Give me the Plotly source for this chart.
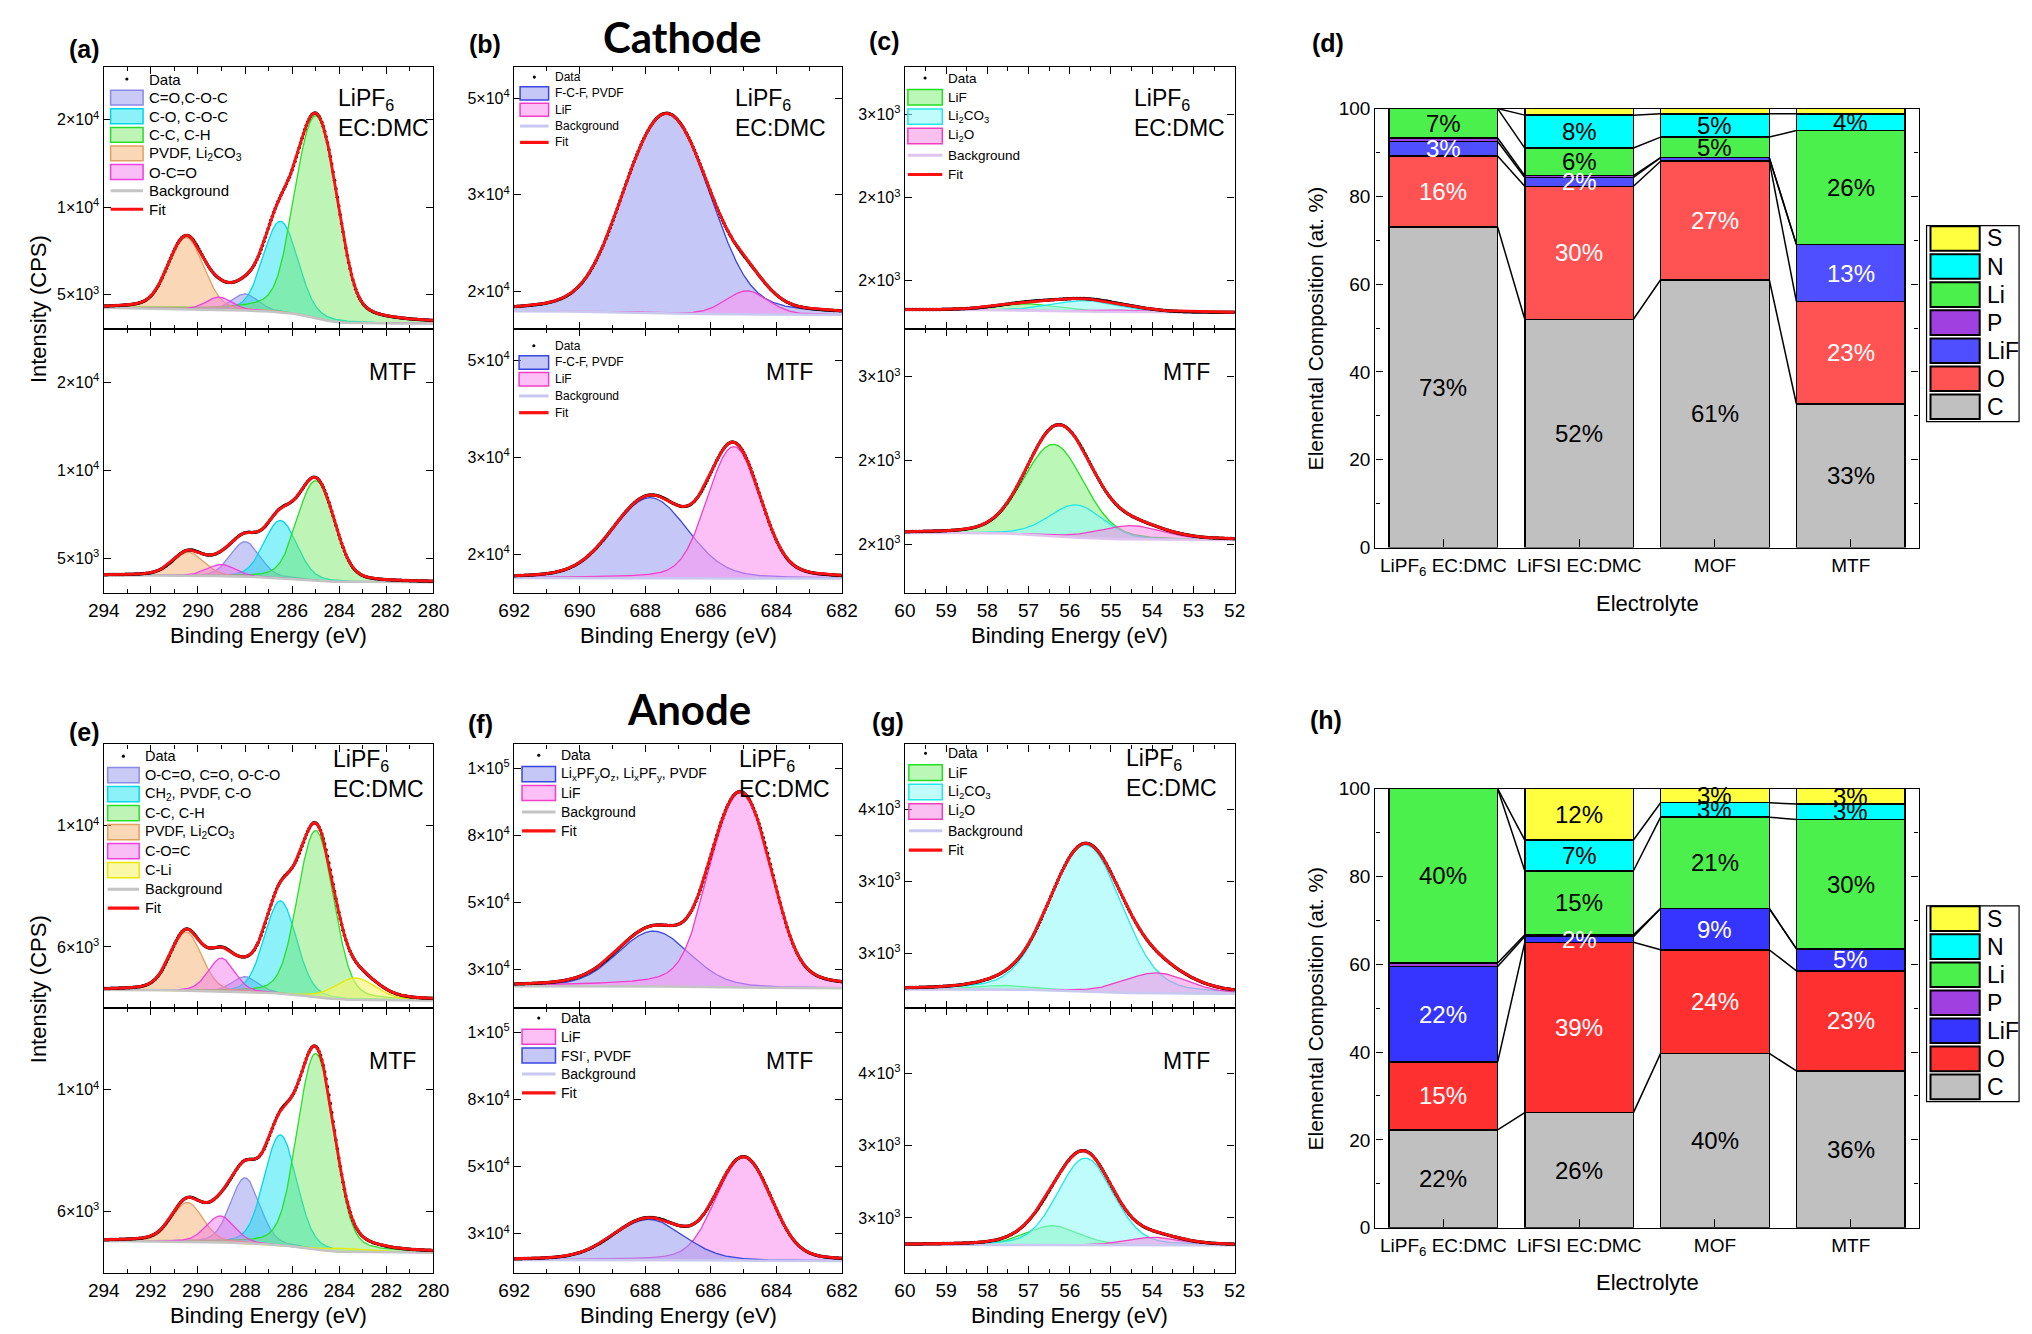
import numpy as np
import plotly.graph_objects as go

W, H = 2032, 1334
FONT = "Liberation Sans, Arial, sans-serif"

# ======================= XPS peak-fit parameters =======================
# centres in eV, peak heights above background in CPS, FWHM in eV,
# background end levels [high-BE end, low-BE end] in CPS

# (a) C 1s, cathode
A1_NAMES = ["C=O,C-O-C", "C-O, C-O-C", "C-C, C-H", "PVDF, Li<sub>2</sub>CO<sub>3</sub>", "O-C=O"]
A1_CENTER = [288.0, 286.5, 285.0, 290.5, 289.1]
A1_HEIGHT = [620, 4600, 16500, 3400, 480]
A1_FWHM = [1.3, 1.5, 1.6, 1.6, 1.3]
A1_BG = [4500, 3980]
A2_CENTER = [288.0, 286.5, 285.0, 290.4, 289.0]
A2_HEIGHT = [1370, 2450, 5000, 880, 420]
A2_FWHM = [1.4, 1.5, 1.6, 1.5, 1.4]
A2_BG = [4370, 4140]
A_YTICKS = [5000, 10000, 20000]
A_YTEXT = ["5×10<sup>3</sup>", "1×10<sup>4</sup>", "2×10<sup>4</sup>"]

# (b) F 1s, cathode
B1_NAMES = ["F-C-F, PVDF", "LiF"]
B1_CENTER = [687.35, 684.9]
B1_HEIGHT = [28700, 2150]
B1_FWHM = [2.6, 1.5]
B1_BG = [18100, 17800]
B2_NAMES = ["F-C-F, PVDF", "LiF"]
B2_CENTER = [687.85, 685.3]
B2_HEIGHT = [8300, 15500]
B2_FWHM = [2.5, 1.7]
B2_BG = [17850, 17800]
B_YTICKS = [10 ** 4.3, 10 ** 4.5, 10 ** 4.7]
B_YTEXT = ["2×10<sup>4</sup>", "3×10<sup>4</sup>", "5×10<sup>4</sup>"]

# (c) Li 1s, cathode
C_NAMES = ["LiF", "Li<sub>2</sub>CO<sub>3</sub>", "Li<sub>2</sub>O"]
C1_CENTER = [57.0, 55.6, 54.5]
C1_HEIGHT = [30, 50, 10]
C1_FWHM = [1.8, 1.8, 1.5]
C1_BG = [1641, 1629]
C2_CENTER = [56.39, 55.84, 54.5]
C2_HEIGHT = [520, 170, 70]
C2_FWHM = [1.65, 1.5, 1.8]
C2_BG = [1834, 1799]
C_YTICKS = [10 ** 3.25, 10 ** 3.35, 10 ** 3.45]
C_YTEXT = ["2×10<sup>3</sup>", "2×10<sup>3</sup>", "3×10<sup>3</sup>"]

# (e) C 1s, anode
E1_NAMES = ["O-C=O, C=O, O-C-O", "CH<sub>2</sub>, PVDF, C-O", "C-C, C-H",
            "PVDF, Li<sub>2</sub>CO<sub>3</sub>", "C-O=C", "C-Li"]
E1_CENTER = [288.0, 286.5, 285.0, 290.5, 289.0, 283.3]
E1_HEIGHT = [320, 2230, 4600, 1330, 720, 450]
E1_FWHM = [1.3, 1.5, 1.6, 1.5, 1.3, 2.0]
E1_BG = [5360, 5150]
E2_CENTER = [288.0, 286.5, 285.0, 290.45, 289.05, 283.5]
E2_HEIGHT = [1570, 2880, 6000, 900, 590, 80]
E2_FWHM = [1.4, 1.5, 1.6, 1.5, 1.4, 2.5]
E2_BG = [5640, 5400]
E_YTICKS = [10 ** 3.8, 10 ** 4.0]
E_YTEXT = ["6×10<sup>3</sup>", "1×10<sup>4</sup>"]

# (f) F 1s, anode
F1_NAMES = ["Li<sub>x</sub>PF<sub>y</sub>O<sub>z</sub>, Li<sub>x</sub>PF<sub>y</sub>, PVDF", "LiF"]
F1_CENTER = [687.75, 685.1]
F1_HEIGHT = [13000, 78700]
F1_FWHM = [2.4, 1.75]
F1_BG = [28100, 27700]
F2_NAMES = ["LiF", "FSI<sup>-</sup>, PVDF"]
F2_CENTER = [685.0, 687.9]
F2_HEIGHT = [27000, 8500]
F2_FWHM = [1.75, 2.4]
F2_BG = [26400, 26200]
F_YTICKS = [10 ** 4.5, 10 ** 4.7, 10 ** 4.9, 10 ** 5.1]
F_YTEXT = ["3×10<sup>4</sup>", "5×10<sup>4</sup>", "8×10<sup>4</sup>", "1×10<sup>5</sup>"]

# (g) Li 1s, anode
G_NAMES = ["LiF", "Li<sub>2</sub>CO<sub>3</sub>", "Li<sub>2</sub>O"]
G1_CENTER = [57.6, 55.62, 53.9]
G1_HEIGHT = [30, 1330, 150]
G1_FWHM = [1.5, 1.9, 1.8]
G1_BG = [2238, 2208]
G2_CENTER = [56.42, 55.62, 53.95]
G2_HEIGHT = [145, 735, 60]
G2_FWHM = [1.5, 1.5, 1.5]
G2_BG = [2306, 2302]
G_YTICKS = [10 ** 3.4, 10 ** 3.5, 10 ** 3.6]
G_YTEXT = ["3×10<sup>3</sup>", "3×10<sup>3</sup>", "4×10<sup>3</sup>"]

# ======================= Elemental composition (at. %) =======================
CATS = ["LiPF<sub>6</sub> EC:DMC", "LiFSI EC:DMC", "MOF", "MTF"]
ELEMENTS = ["C", "O", "LiF", "P", "Li", "N", "S"]
D_C = [73.0, 52.0, 61.0, 32.7]
D_O = [16.2, 30.3, 27.0, 23.3]
D_LIF = [3.3, 2.0, 0.8, 13.0]
D_P = [0.8, 0.4, 0.0, 0.0]
D_LI = [6.7, 6.3, 4.7, 26.0]
D_N = [0.0, 7.5, 5.3, 3.8]
D_S = [0.0, 1.5, 1.2, 1.2]
D_LABELS = [["73%", "52%", "61%", "33%"], ["16%", "30%", "27%", "23%"], ["3%", "2%", "", "13%"],
            ["", "", "", ""], ["7%", "6%", "5%", "26%"], ["", "8%", "5%", "4%"], ["", "", "", ""]]
H_C = [22.3, 26.2, 39.7, 35.7]
H_O = [15.4, 38.8, 23.6, 22.8]
H_LIF = [21.8, 1.3, 9.4, 5.0]
H_P = [0.8, 0.4, 0.0, 0.0]
H_LI = [39.7, 14.6, 20.8, 29.5]
H_N = [0.0, 7.0, 3.3, 3.5]
H_S = [0.0, 11.7, 3.2, 3.5]
H_LABELS = [["22%", "26%", "40%", "36%"], ["15%", "39%", "24%", "23%"], ["22%", "2%", "9%", "5%"],
            ["", "", "", ""], ["40%", "15%", "21%", "30%"], ["", "7%", "3%", "3%"], ["", "12%", "3%", "3%"]]

# ======================= styles =======================
LAV = ("rgba(150,150,240,0.5)", "#8a8ae8")
CYAN = ("rgba(0,225,240,0.45)", "#00d8e8")
GREEN = ("rgba(110,230,90,0.45)", "#28e028")
ORANGE = ("rgba(245,175,110,0.5)", "#e0a060")
PINK = ("rgba(245,110,235,0.45)", "#f040e0")
YELLOW = ("rgba(245,245,110,0.6)", "#e8e800")
FCF = ("rgba(150,155,240,0.55)", "#3a46e0")
LIFP = ("rgba(250,150,240,0.6)", "#f040c8")
LGREEN = ("rgba(120,240,110,0.5)", "#20e020")
LCYAN = ("rgba(150,250,250,0.6)", "#20e8e8")
LPINK = ("rgba(245,140,230,0.55)", "#f040c0")

BAR_COLORS_D = {"C": "#c0c0c0", "O": "#ff5252", "LiF": "#4f4fff", "P": "#a040e0",
                "Li": "#4cf04c", "N": "#00ffff", "S": "#ffff40"}
BAR_COLORS_H = {"C": "#c0c0c0", "O": "#ff3030", "LiF": "#3535ff", "P": "#a040e0",
                "Li": "#4cf04c", "N": "#00ffff", "S": "#ffff40"}
TEXT_COLORS = {"C": "black", "O": "white", "LiF": "white", "P": "black", "Li": "black", "N": "black", "S": "black"}

fig = go.Figure()
annotations = []
shapes = []
layout = {}


def sfx(n):
    return "" if n == 1 else str(n)


def px(xp):
    return xp / W


def py(yp):
    return 1 - yp / H


def text(xp, yp, t, size, xanchor="center", yanchor="middle", angle=0, color="black", family=FONT, align="center"):
    annotations.append(dict(x=px(xp), y=py(yp), xref="paper", yref="paper", text=t, showarrow=False,
                            xanchor=xanchor, yanchor=yanchor, textangle=angle, align=align,
                            font=dict(size=size, family=family, color=color)))


def gl(x, c, h, w, m=0.2):
    t = (x - c) / w
    return h * ((1 - m) * np.exp(-4 * np.log(2) * t ** 2) + m / (1 + 4 * t ** 2))


def shirley(x, total, hi, lo):
    cum = np.concatenate([[0.0], np.cumsum(0.5 * (total[1:] + total[:-1]) * np.diff(x))])
    return lo + (hi - lo) * cum / cum[-1]


AX = dict(showline=True, linecolor="black", linewidth=1.4, mirror="allticks", ticks="inside",
          ticklen=7, tickwidth=1.4, tickcolor="black", showgrid=False, zeroline=False)


def manual_legend(spec, names, styles, bg_color):
    y0, dy, sx0, sx1, tx, fs = spec
    entries = [("data", "Data", None)] + [("fill", nm, st) for nm, st in zip(names, styles)] + \
              [("line", "Background", bg_color), ("line", "Fit", "#ff1010")]
    hh = 0.4 * dy
    for k, (kind, nm, st) in enumerate(entries):
        yc = y0 + k * dy
        if kind == "data":
            xm = 0.5 * (sx0 + sx1)
            shapes.append(dict(type="circle", xref="paper", yref="paper", x0=px(xm - 1.6), x1=px(xm + 1.6),
                               y0=py(yc + 1.6), y1=py(yc - 1.6), fillcolor="black", line=dict(width=0),
                               layer="above"))
        elif kind == "fill":
            shapes.append(dict(type="rect", xref="paper", yref="paper", x0=px(sx0), x1=px(sx1),
                               y0=py(yc + hh), y1=py(yc - hh), fillcolor=st[0],
                               line=dict(color=st[1], width=1.5), layer="above"))
        else:
            wdt = 3.2 if nm == "Fit" else 3.0
            shapes.append(dict(type="line", xref="paper", yref="paper", x0=px(sx0), x1=px(sx1),
                               y0=py(yc), y1=py(yc), line=dict(color=st, width=wdt), layer="above"))
        text(tx, yc, nm, fs, xanchor="left")


def xps(n, xdom, ydom, xlim, xdtick, xminor, ylim, ytv, ytt, show_xlabels,
        names, centers, heights, fwhms, bg_ends, styles, bg_color, legend=None):
    xa, ya = "x" + sfx(n), "y" + sfx(n)
    lo, hi = xlim
    x = np.linspace(lo, hi, 701)
    comps = [gl(x, c, h, w) for c, h, w in zip(centers, heights, fwhms)]
    total = np.sum(comps, axis=0)
    bg = shirley(x, total, bg_ends[0], bg_ends[1])
    fit = bg + total
    for nm, comp, st in zip(names, comps, styles):
        fig.add_trace(go.Scatter(x=x, y=bg, mode="lines", line=dict(width=0, color=st[1]),
                                 hoverinfo="skip", showlegend=False, xaxis=xa, yaxis=ya))
        fig.add_trace(go.Scatter(x=x, y=bg + comp, mode="lines", fill="tonexty", fillcolor=st[0],
                                 line=dict(color=st[1], width=1.3), name=nm, showlegend=False,
                                 xaxis=xa, yaxis=ya))
    fig.add_trace(go.Scatter(x=x, y=bg, mode="lines", line=dict(color=bg_color, width=2.5),
                             name="Background", showlegend=False, xaxis=xa, yaxis=ya))
    fig.add_trace(go.Scatter(x=x[::3], y=fit[::3], mode="markers", marker=dict(color="black", size=3.5),
                             name="Data", showlegend=False, xaxis=xa, yaxis=ya))
    fig.add_trace(go.Scatter(x=x, y=fit, mode="lines", line=dict(color="#ff1010", width=2.8),
                             name="Fit", showlegend=False, xaxis=xa, yaxis=ya))
    layout["xaxis" + sfx(n)] = dict(AX, domain=xdom, anchor=ya, range=[hi, lo], tickmode="linear",
                                    tick0=lo, dtick=xdtick,
                                    minor=dict(dtick=xminor, tick0=lo, ticks="inside", ticklen=4,
                                               tickwidth=1.2, tickcolor="black", showgrid=False),
                                    showticklabels=show_xlabels,
                                    tickfont=dict(size=19, family=FONT, color="black"))
    layout["yaxis" + sfx(n)] = dict(AX, domain=ydom, anchor=xa, type="log", range=list(ylim),
                                    tickmode="array", tickvals=ytv, ticktext=ytt,
                                    tickfont=dict(size=16, family=FONT, color="black"))
    if legend is not None:
        manual_legend(legend, names, styles, bg_color)


# layout geometry (pixels)
XA = [px(81), px(416)]
XB = [px(498), px(831)]
XC = [px(895), px(1230)]
XD = [px(1373), px(1925)]
YT1 = [py(316), py(50)]
YT2 = [py(584), py(316)]
YB1 = [py(1006), py(738)]
YB2 = [py(1275), py(1006)]
YD = [py(538), py(92)]
YH = [py(1229), py(783)]

# legend geometry: first-row centre y, row step, symbol x0, symbol x1, text x, font size
LEG_A = (62, 18.9, 88, 121, 125, 15)
LEG_B1 = (60, 16.6, 504, 533, 537, 12)
LEG_B2 = (333, 17.0, 503, 533, 537, 12)
LEG_C = (61, 19.6, 898, 933, 937, 13.5)
LEG_E = (750, 19.3, 85, 117, 121, 14.5)
LEG_F1 = (749, 19.2, 506, 540, 544, 14)
LEG_F2 = (1016, 19.0, 506, 540, 544, 14)
LEG_G = (747, 19.7, 899, 933, 937, 14)

ST_A = [LAV, CYAN, GREEN, ORANGE, PINK]
ST_E = [LAV, CYAN, GREEN, ORANGE, PINK, YELLOW]

xps(1, XA, YT1, (280, 294), 2, 1, (3.581, 4.482), A_YTICKS, A_YTEXT, False,
    A1_NAMES, A1_CENTER, A1_HEIGHT, A1_FWHM, A1_BG, ST_A, "#c4c4c4", LEG_A)
xps(2, XA, YT2, (280, 294), 2, 1, (3.581, 4.482), A_YTICKS, A_YTEXT, True,
    A1_NAMES, A2_CENTER, A2_HEIGHT, A2_FWHM, A2_BG, ST_A, "#c4c4c4")
xps(3, XB, YT1, (682, 692), 2, 1, (4.221, 4.765), B_YTICKS, B_YTEXT, False,
    B1_NAMES, B1_CENTER, B1_HEIGHT, B1_FWHM, B1_BG, [FCF, LIFP], "#c8c8f0", LEG_B1)
xps(4, XB, YT2, (682, 692), 2, 1, (4.221, 4.765), B_YTICKS, B_YTEXT, True,
    B2_NAMES, B2_CENTER, B2_HEIGHT, B2_FWHM, B2_BG, [FCF, LIFP], "#c8c8f0", LEG_B2)
xps(5, XC, YT1, (52, 60), 1, 0.5, (3.192, 3.507), C_YTICKS, C_YTEXT, False,
    C_NAMES, C1_CENTER, C1_HEIGHT, C1_FWHM, C1_BG, [LGREEN, LCYAN, LPINK], "#e0c4f0", LEG_C)
xps(6, XC, YT2, (52, 60), 1, 0.5, (3.192, 3.507), C_YTICKS, C_YTEXT, True,
    C_NAMES, C2_CENTER, C2_HEIGHT, C2_FWHM, C2_BG, [LGREEN, LCYAN, LPINK], "#e0c4f0")
xps(7, XA, YB1, (280, 294), 2, 1, (3.699, 4.134), E_YTICKS, E_YTEXT, False,
    E1_NAMES, E1_CENTER, E1_HEIGHT, E1_FWHM, E1_BG, ST_E, "#c4c4c4", LEG_E)
xps(8, XA, YB2, (280, 294), 2, 1, (3.699, 4.134), E_YTICKS, E_YTEXT, True,
    E1_NAMES, E2_CENTER, E2_HEIGHT, E2_FWHM, E2_BG, ST_E, "#c4c4c4")
xps(9, XB, YB1, (682, 692), 2, 1, (4.383, 5.172), F_YTICKS, F_YTEXT, False,
    F1_NAMES, F1_CENTER, F1_HEIGHT, F1_FWHM, F1_BG, [FCF, LIFP], "#c4c4c4", LEG_F1)
xps(10, XB, YB2, (682, 692), 2, 1, (4.383, 5.172), F_YTICKS, F_YTEXT, True,
    F2_NAMES, F2_CENTER, F2_HEIGHT, F2_FWHM, F2_BG, [LIFP, FCF], "#c8c8f0", LEG_F2)
xps(11, XC, YB1, (52, 60), 1, 0.5, (3.324, 3.690), G_YTICKS, G_YTEXT, False,
    G_NAMES, G1_CENTER, G1_HEIGHT, G1_FWHM, G1_BG, [LGREEN, LCYAN, LPINK], "#c8c8f0", LEG_G)
xps(12, XC, YB2, (52, 60), 1, 0.5, (3.324, 3.690), G_YTICKS, G_YTEXT, True,
    G_NAMES, G2_CENTER, G2_HEIGHT, G2_FWHM, G2_BG, [LGREEN, LCYAN, LPINK], "#c8c8f0")

LIPF6 = "LiPF<sub>6</sub><br>EC:DMC"
for right, top in [(416 - 2, 66), (831 - 14, 66), (1230 - 8, 66),
                   (416 - 8, 738), (831 - 10, 738), (1230 - 16, 737)]:
    text(right, top, LIPF6, 23, xanchor="right", yanchor="top", align="left")
for right in (416 - 16, 831 - 27, 1230 - 23):
    text(right, 344, "MTF", 23, xanchor="right", yanchor="top")
    text(right, 1044, "MTF", 23, xanchor="right", yanchor="top")


def bars(n, xdom, ydom, data, labels, colors):
    xa, ya = "x" + sfx(n), "y" + sfx(n)
    xs = np.arange(len(CATS))
    base = np.zeros(len(CATS))
    levels = []
    for el, vals, labs in zip(ELEMENTS, data, labels):
        vals = np.array(vals, dtype=float)
        fig.add_trace(go.Bar(x=xs, y=vals, width=0.8, base=base.copy(),
                             marker=dict(color=colors[el], line=dict(color="black", width=1.5)),
                             showlegend=False, hoverinfo="skip", xaxis=xa, yaxis=ya))
        for i, lab in enumerate(labs):
            if lab:
                annotations.append(dict(x=xs[i], y=base[i] + vals[i] / 2, xref=xa, yref=ya, text=lab,
                                        showarrow=False, xanchor="center", yanchor="middle",
                                        font=dict(size=24, family=FONT, color=TEXT_COLORS[el])))
        base = base + vals
        levels.append(base.copy())
    lx, ly = [], []
    for lev in levels[:-1]:
        for i in range(len(CATS) - 1):
            lx += [xs[i] + 0.4, xs[i + 1] - 0.4, None]
            ly += [lev[i], lev[i + 1], None]
    fig.add_trace(go.Scatter(x=lx, y=ly, mode="lines", line=dict(color="black", width=1.5),
                             showlegend=False, hoverinfo="skip", xaxis=xa, yaxis=ya))
    layout["xaxis" + sfx(n)] = dict(AX, mirror=True, domain=xdom, anchor=ya, range=[-0.5, 3.5],
                                    tickmode="array", tickvals=list(xs), ticktext=CATS, ticklen=8,
                                    tickfont=dict(size=19, family=FONT, color="black"))
    layout["yaxis" + sfx(n)] = dict(AX, domain=ydom, anchor=xa, range=[0, 100], tickmode="linear",
                                    tick0=0, dtick=20,
                                    minor=dict(dtick=10, ticks="inside", ticklen=4, tickwidth=1.2,
                                               tickcolor="black", showgrid=False),
                                    tickfont=dict(size=19, family=FONT, color="black"))


bars(13, XD, YD, [D_C, D_O, D_LIF, D_P, D_LI, D_N, D_S], D_LABELS, BAR_COLORS_D)
bars(14, XD, YH, [H_C, H_O, H_LIF, H_P, H_LI, H_N, H_S], H_LABELS, BAR_COLORS_H)


def bar_legend(top, colors):
    shapes.append(dict(type="rect", xref="paper", yref="paper", x0=px(1933), x1=px(2027),
                       y0=py(top + 199), y1=py(top), line=dict(color="black", width=1.2),
                       fillcolor="white", layer="above"))
    for k, el in enumerate(reversed(ELEMENTS)):
        yc = top + 13 + k * 28.5
        shapes.append(dict(type="rect", xref="paper", yref="paper", x0=px(1937), x1=px(1987),
                           y0=py(yc + 12.5), y1=py(yc - 12.5), line=dict(color="black", width=2),
                           fillcolor=colors[el], layer="above"))
        text(1992, yc, el, 23, xanchor="left")


bar_legend(211, BAR_COLORS_D)
bar_legend(902, BAR_COLORS_H)

# titles and panel labels
for lab, xp_, yp_ in [("(a)", 61, 31), ("(b)", 468, 26), ("(c)", 874, 23), ("(d)", 1325, 25),
                      ("(e)", 61, 725), ("(f)", 464, 717), ("(g)", 878, 715), ("(h)", 1323, 713)]:
    text(xp_, yp_, "<b>" + lab + "</b>", 25)
text(669, 19, "<b>Cathode</b>", 42, family="Lato, Liberation Sans")
text(676, 702, "<b>Anode</b>", 42, family="Lato, Liberation Sans")
for yc in (296, 987):
    text(15, yc, "Intensity (CPS)", 22, angle=-90)
for xd in (XA, XB, XC):
    xc = 0.5 * (xd[0] + xd[1]) * W
    text(xc, 627, "Binding Energy (eV)", 22)
    text(xc, 1318, "Binding Energy (eV)", 22)
xdc = 0.5 * (XD[0] + XD[1]) * W
for yc, yt in ((315, 595), (1006, 1285)):
    text(1312, yc, "Elemental Composition (at. %)", 21, angle=-90)
    text(xdc, yt, "Electrolyte", 22)

fig.update_layout(**layout)
fig.update_layout(width=W, height=H, margin=dict(l=0, r=0, t=0, b=0), paper_bgcolor="white",
                  plot_bgcolor="white", barmode="stack", showlegend=False,
                  annotations=annotations, shapes=shapes, font=dict(family=FONT, color="black"))
fig.write_html("out.html")
